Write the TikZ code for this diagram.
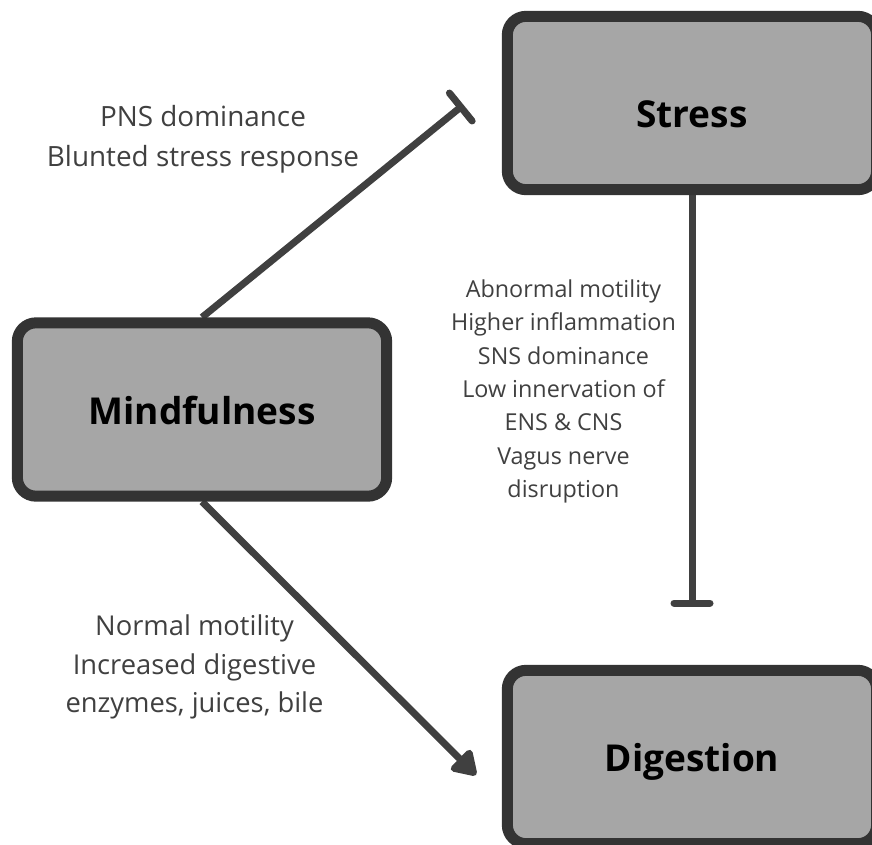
\documentclass[tikz,border=0pt]{standalone}
\usepackage{fontspec}
\setmainfont{Open Sans}
\usepackage{xcolor}
\usepackage{tikz}
\usetikzlibrary{arrows.meta,positioning,calc,backgrounds}

\definecolor{edgegray}{HTML}{333333}
\definecolor{boxgray}{HTML}{A6A6A6}
\definecolor{linegray}{HTML}{404040}
\definecolor{textgray}{HTML}{404040}

\begin{document}
\begin{tikzpicture}[
    x=0.75pt, y=-0.75pt,
    box/.style={rectangle, draw=edgegray, line width=8.25pt, rounded corners=14pt, fill=boxgray,
      minimum width=277pt, minimum height=130pt, align=center, text height=22pt, text depth=0pt,
      font=\fontsize{27.8}{32}\selectfont\bfseries},
    inhibit/.style={-{Bar[width=27pt, line cap=round]}, line width=5.25pt, draw=linegray},
    arrow/.style={-{Triangle[length=20pt, width=24pt, round]}, line width=5.25pt, draw=linegray},
    note/.style={align=center, text=textgray}
]
\useasboundingbox (0,0) rectangle (872,844);
\clip (0,0) rectangle (872,844);

% boxes
\node[box, text height=36pt] (stress) at (692,103) {Stress};
\node[box] (mind) at (202,409.5) {Mindfulness};
\node[box] (dig) at (692,757) {Digestion};

% free ends of the connectors
\coordinate (barS) at (463.5,104.8);
\coordinate (barD) at (692,606.5);
\coordinate (tipD) at (476,775);

% connectors
\begin{scope}[on background layer]
\draw[inhibit] (mind.north) -- (barS);
\draw[arrow] (mind.south) -- (tipD);
\draw[inhibit] (stress.south) -- (barD);
\end{scope}

% labels
\node[note, font=\fontsize{20.9}{30}\selectfont] (pns) at (203,139) {PNS dominance\\Blunted stress response};
\node[note, font=\fontsize{17.5}{25}\selectfont] (abn) at (563.5,391.5) {Abnormal motility\\Higher inflammation\\SNS dominance\\Low innervation of\\ENS \& CNS\\Vagus nerve\\disruption};
\node[note, font=\fontsize{20.5}{28.9}\selectfont] (norm) at (194.5,667) {Normal motility\\Increased digestive\\enzymes, juices, bile};

\end{tikzpicture}
\end{document}
